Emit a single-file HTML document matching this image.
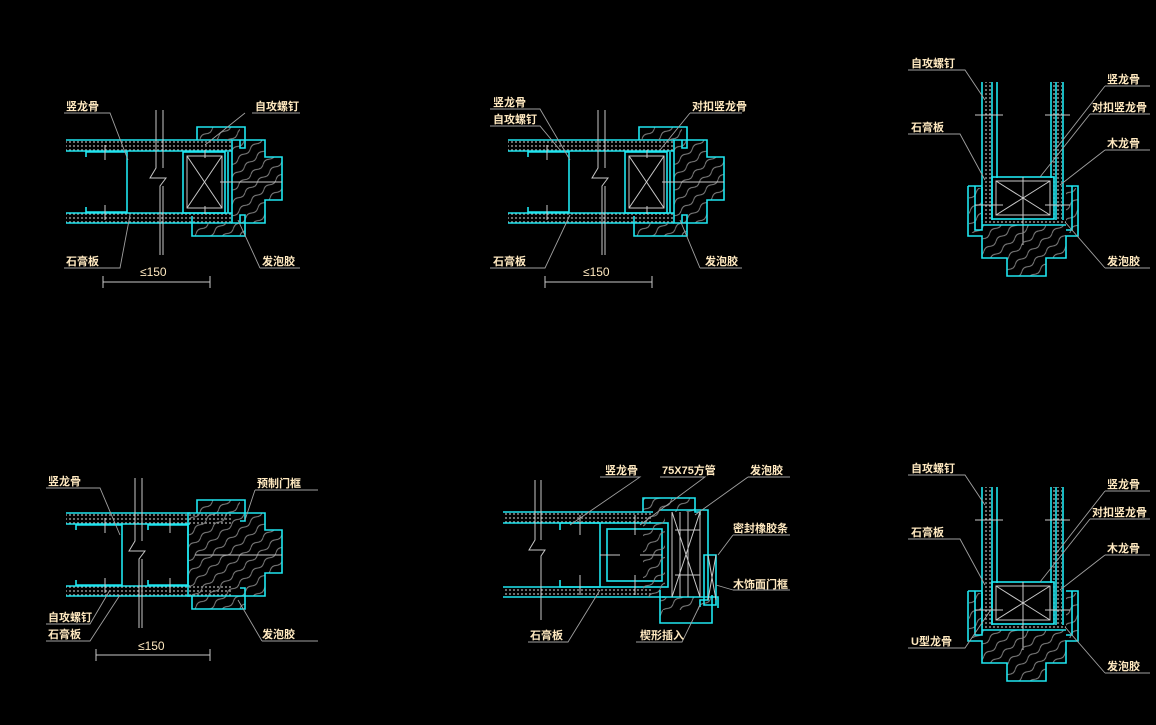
<!DOCTYPE html>
<html><head><meta charset="utf-8"><style>
html,body{margin:0;padding:0;background:#000;}
svg{display:block}
text{font-family:"Liberation Sans","Noto Sans CJK SC",sans-serif;font-size:11px;fill:#ffe9c0;font-weight:bold}
.c{stroke:#1fe6f0;fill:none;stroke-width:1.6}
.w{stroke:#c8c8c8;fill:none;stroke-width:1}
.l{stroke:#a0a0a0;fill:none;stroke-width:0.9}
</style></head><body>
<svg width="1156" height="725" viewBox="0 0 1156 725" xmlns="http://www.w3.org/2000/svg">
<defs>
<pattern id="dots" width="4" height="4" patternUnits="userSpaceOnUse"><circle cx="2" cy="2" r="0.9" fill="#bbb"/></pattern>
<pattern id="wood" width="16" height="10" patternUnits="userSpaceOnUse" patternTransform="rotate(-40)"><path d="M0,5 Q4,2 8,5 T16,5" stroke="#8a8a8a" fill="none" stroke-width="0.9"/></pattern>

<g id="d1">
  <rect x="66" y="141" width="166" height="10" fill="url(#dots)"/>
  <rect x="66" y="213" width="166" height="10" fill="url(#dots)"/>
  <path class="c" d="M66,140H232M66,151H232M66,213H232M66,223H232"/>
  <path class="c" d="M86,157V152H127V212H86V207"/>
  <path class="w" d="M156,110V168L150,178H166L160,186V255M163,110V168M163,186V255"/>
  <rect x="183" y="152" width="42" height="61" class="c"/>
  <rect x="187" y="156" width="35" height="52" class="w"/>
  <path class="w" d="M187,156L222,208M222,156L187,208M205,150V158M205,206V214M105,145V160M105,205V220"/>
  <rect x="197" y="127" width="43" height="13" fill="url(#wood)"/>
  <rect x="192" y="223" width="53" height="13" fill="url(#wood)"/>
  <path d="M232,140H265V157H282V200H265V223H232Z" fill="url(#wood)"/>
  <path class="c" d="M197,140V127H245V148H240V140M232,140H265V157H282V200H265V223H232ZM192,216V236H245V215H240V223M228,152V213"/>
  <path class="w" d="M220,182H282"/>
  <path class="w" d="M103,282H210M103,276V288M210,276V288"/>
</g>

<g id="d3">
  <rect x="983" y="82" width="9" height="138" fill="url(#dots)"/>
  <rect x="1052" y="82" width="10" height="138" fill="url(#dots)"/>
  <path class="c" d="M982,82V220M992,82V220M997,82V178M1051,82V178M1056,82V220M1063,82V220"/>
  <rect x="992" y="177" width="62" height="42" class="c"/>
  <rect x="996" y="181" width="54" height="34" class="w"/>
  <path class="w" d="M996,181L1050,215M1050,181L996,215M1023,177V245"/>
  <rect x="982" y="219" width="84" height="6" fill="url(#dots)"/>
  <path d="M982,225H1066V258H1046V276H1007V258H982Z" fill="url(#wood)"/>
  <rect x="969" y="188" width="12" height="45" fill="url(#wood)"/>
  <rect x="1066" y="188" width="12" height="45" fill="url(#wood)"/>
  <path class="c" d="M982,225H1066M975,186V230H982V187M968,186H982M968,186V236H982V258H1007V276H1046V258H1066V236H1078V186H1066M1072,186V230H1066"/>
  <path class="w" d="M975,115H1003M1045,115H1070M975,205H1003M1045,205H1070"/>
</g>
</defs>

<use href="#d1"/>
<use href="#d1" transform="translate(442,0)"/>
<use href="#d3"/>
<use href="#d3" transform="translate(0,405)"/>

<!-- detail 4 -->
<g transform="translate(0,373)">
  <rect x="66" y="141" width="166" height="10" fill="url(#dots)"/>
  <rect x="66" y="213" width="166" height="10" fill="url(#dots)"/>
  <path class="c" d="M66,140H190M66,151H190M66,213H190M66,223H190"/>
  <path class="c" d="M76,157V152H122V212H76V207"/>
  <path class="c" d="M148,157V152H188V212H148V207"/>
  <path class="w" d="M135,105V168L129,178H145L139,186V255M142,105V168M142,186V255"/>
  <path d="M188,140H197V127H240V140H265V157H282V200H265V223H245V236H192V223H188Z" fill="url(#wood)"/>
  <path class="c" d="M188,140H265V157H282V200H265V223H188ZM197,140V127H245V148H240M192,223V236H245V215H240"/>
  <path class="w" d="M195,182H282M105,145V160M105,205V220M170,145V160M170,205V220"/>
  <path class="w" d="M96,282H210M96,276V288M210,276V288"/>
</g>

<!-- detail 5 -->
<g>
  <rect x="503" y="513" width="150" height="10" fill="url(#dots)"/>
  <rect x="503" y="587" width="150" height="10" fill="url(#dots)"/>
  <path class="c" d="M503,512H653M503,523H600M503,587H600M503,597H665"/>
  <path class="c" d="M560,530V523H600M560,580V587H600"/>
  <path class="w" d="M535,480V540L529,550H545L541,556V620M541,480V540"/>
  <rect x="600" y="523" width="68" height="64" class="c"/>
  <rect x="607" y="529" width="55" height="52" class="c"/>
  <path class="w" d="M600,555H620M640,555H662M580,515V535M580,575V595M635,515V535M635,575V595"/>
  <path d="M643,498H695V512H665V597H713V610H663V623H660V597H643Z" fill="url(#wood)"/>
  <path class="c" d="M643,512V498H695V512H700V515M660,510H708V600H700V607M662,597H718V608M660,590V623H712V595M704,555V605H716V555Z"/>
  <path class="w" d="M672,512V597M680,512V597M688,512V597M700,512V597M672,512L700,597M700,512L672,597M708,555L716,600M716,555L708,600M675,530H700M675,575H700"/>
</g>

<!-- leader lines -->
<g class="l">
  <path d="M64,113H110L128,160M252,113H300M245,113L205,145M64,268H120L130,215M260,268H300M260,268L238,220"/>
  <path d="M490,109H540L570,160M490,126H540L560,150M690,113H742M690,113L660,150M490,268H545L570,215M700,268H742M700,268L680,220"/>
  <path d="M908,70H965L985,100M1105,86H1150M1105,86L1055,150M1090,114H1150M1090,114L1040,177M908,134H960L985,180M1105,150H1150M1105,150L1060,185M1105,268H1150M1105,268L1065,222"/>
  <path d="M908,475H965L985,505M1105,491H1150M1105,491L1055,555M1090,519H1150M1090,519L1040,582M908,539H960L985,585M1105,555H1150M1105,555L1060,590M908,648H965L992,608M1105,673H1150M1105,673L1065,627"/>
  <path d="M46,488H100L120,535M255,490H318M255,490L245,520M46,624H90L110,590M46,641H90L120,595M262,641H318M262,641L238,600"/>
  <path d="M600,477H640L570,525M660,477H705L640,525M748,477H790M748,477L695,515M733,535H790M733,535L718,555M733,590H790M733,590L716,585M528,642H568L600,590M636,642H682L700,605"/>
</g>

<!-- labels -->
<text x="66" y="110">竖龙骨</text>
<text x="255" y="110">自攻螺钉</text>
<text x="66" y="265">石膏板</text>
<text x="262" y="265">发泡胶</text>
<text x="140" y="276" style="font-size:12px;font-weight:normal">≤150</text>

<text x="493" y="106">竖龙骨</text>
<text x="493" y="123">自攻螺钉</text>
<text x="692" y="110">对扣竖龙骨</text>
<text x="493" y="265">石膏板</text>
<text x="705" y="265">发泡胶</text>
<text x="583" y="276" style="font-size:12px;font-weight:normal">≤150</text>

<text x="911" y="67">自攻螺钉</text>
<text x="1107" y="83">竖龙骨</text>
<text x="1092" y="111">对扣竖龙骨</text>
<text x="911" y="131">石膏板</text>
<text x="1107" y="147">木龙骨</text>
<text x="1107" y="265">发泡胶</text>

<text x="48" y="485">竖龙骨</text>
<text x="257" y="487">预制门框</text>
<text x="48" y="621">自攻螺钉</text>
<text x="48" y="638">石膏板</text>
<text x="262" y="638">发泡胶</text>
<text x="138" y="650" style="font-size:12px;font-weight:normal">≤150</text>

<text x="605" y="474">竖龙骨</text>
<text x="662" y="474">75X75方管</text>
<text x="750" y="474">发泡胶</text>
<text x="733" y="532">密封橡胶条</text>
<text x="733" y="588">木饰面门框</text>
<text x="530" y="639">石膏板</text>
<text x="640" y="639">楔形插入</text>

<text x="911" y="472">自攻螺钉</text>
<text x="1107" y="488">竖龙骨</text>
<text x="1092" y="516">对扣竖龙骨</text>
<text x="911" y="536">石膏板</text>
<text x="1107" y="552">木龙骨</text>
<text x="911" y="645">U型龙骨</text>
<text x="1107" y="670">发泡胶</text>
</svg>
</body></html>
